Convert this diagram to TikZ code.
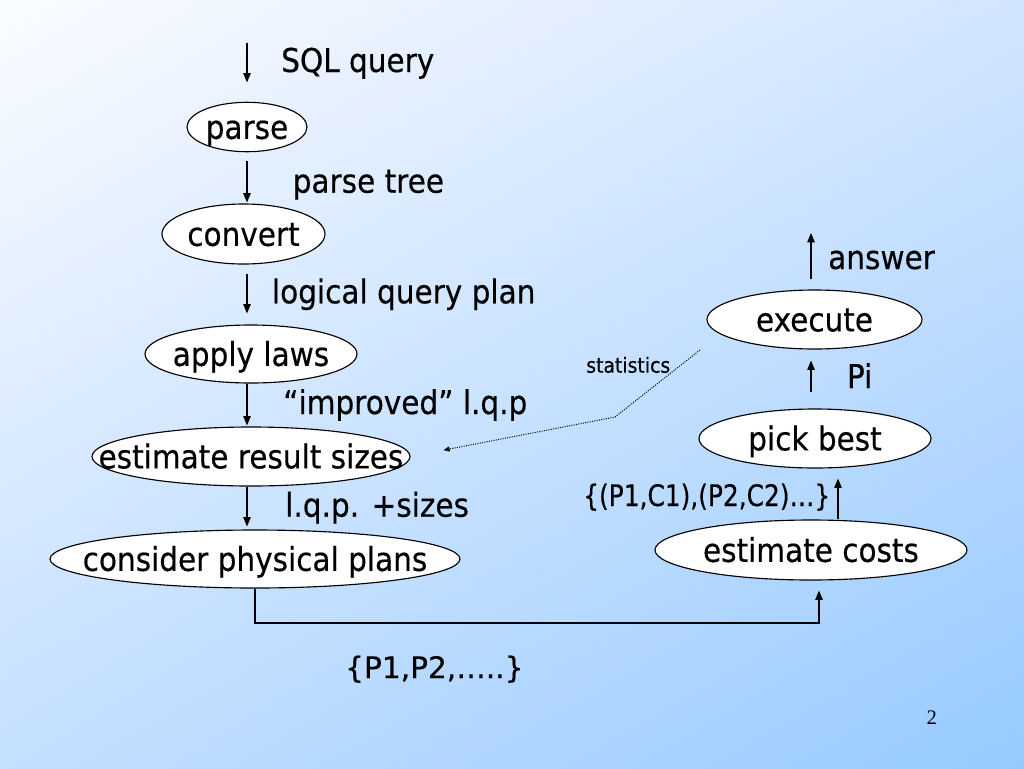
\documentclass[tikz,border=0pt]{standalone}
\usepackage{fontspec}
\setmainfont{DejaVu Sans}[FakeStretch=0.9,FakeBold=0.4]
\newfontfamily\plainsans{DejaVu Sans}[FakeBold=0.4]
\newfontfamily\narrowsans{DejaVu Sans}[FakeStretch=0.84,FakeBold=0.4]
\newfontfamily\serifnum{Liberation Serif}
\usetikzlibrary{shapes.geometric,arrows.meta,shadings}
\definecolor{bgTL}{RGB}{250,252,255}
\definecolor{bgTR}{RGB}{210,229,255}
\definecolor{bgBL}{RGB}{196,223,255}
\definecolor{bgBR}{RGB}{150,202,255}
\newcommand\mainsz{\fontsize{24.6pt}{29pt}\selectfont}
\newcommand\smallsz{\narrowsans\fontsize{22.2pt}{26pt}\selectfont}
\newcommand\statsz{\fontsize{15.7pt}{18pt}\selectfont}
\newcommand\plansz{\plainsans\fontsize{22.2pt}{26pt}\selectfont}
\newcommand\pagesz{\serifnum\fontsize{15.5pt}{18pt}\selectfont}
\begin{document}
\begin{tikzpicture}[x=0.75pt,y=-0.75pt,
  ell/.style 2 args={ellipse, draw=black, line width=0.85pt, fill=white, inner sep=0pt,
    minimum width={#1*0.75pt}, minimum height={#2*0.75pt},
    text height=22pt, text depth=4.2pt, font=\mainsz},
  lbl/.style={anchor=base west, inner sep=0pt, font=\mainsz},
  arr/.style={-{Triangle[length=7pt,width=5.6pt]}, line width=0.8pt},
  stat/.style={densely dotted, line width=0.75pt, -{Triangle[length=4.5pt,width=3.8pt]}, shorten >=25.2pt}]
\useasboundingbox (0,0) rectangle (1024,768);
\shade[upper left=bgTL, upper right=bgTR, lower left=bgBL, lower right=bgBR] (0,0) rectangle (1024,768);

% nodes
\node[ell={120}{48}] (parse) at (247,127) {\makebox[0pt]{parse}};
\node[ell={163}{60}] (convert) at (243.5,234) {\makebox[0pt]{convert}};
\node[ell={212}{58}] (apply) at (251,354) {\makebox[0pt]{apply laws}};
\node[ell={318}{59}] (estimate) at (251,456.5) {\makebox[0pt]{estimate result sizes}};
\node[ell={410}{58}] (consider) at (255,559) {\makebox[0pt]{consider physical plans}};
\node[ell={215}{59}] (execute) at (814.5,319.5) {\makebox[0pt]{execute}};
\node[ell={232}{59}] (pick) at (815,438.5) {\makebox[0pt]{pick best}};
\node[ell={312}{60}] (costs) at (811,550) {\makebox[0pt]{estimate costs}};

% helper coordinates
\coordinate (colL) at (247,0);
\coordinate (colR) at (811,0);
\coordinate (colC) at (838,0);
\coordinate (sqlin) at (247,42.7);
\coordinate (ansout) at (811,233);
\coordinate (jog) at (819,623);
\coordinate (statsrc) at (700,350);
\coordinate (statbend) at (615,417);

% connectors
\draw[arr, shorten >=14.5pt] (sqlin) -- (colL |- parse.north);
\draw[arr, shorten <=6.75pt, shorten >=0.75pt] (colL |- parse.south) -- (colL |- convert.north);
\draw[arr, shorten <=6.75pt, shorten >=8.25pt] (colL |- convert.south) -- (colL |- apply.north);
\draw[arr, shorten >=0.75pt] (colL |- apply.south) -- (colL |- estimate.north);
\draw[arr, shorten >=2.25pt] (colL |- estimate.south) -- (colL |- consider.north);
\draw[arr, shorten <=7.5pt] (colR |- execute.north) -- (ansout);
\draw[arr, shorten <=12pt, shorten >=8.25pt] (colR |- pick.north) -- (colR |- execute.south);
\draw[arr, shorten >=7.5pt] (colC |- costs.north) -- (colC |- pick.south);
\draw[arr, shorten >=7.5pt] (consider.south) |- (jog) -- (jog |- costs.south);
\draw[stat] (statsrc) -- (statbend) -- (estimate.east);

% labels
\node[lbl] (lsql) at (281,72) {SQL query};
\node[lbl] (lptree) at (292.5,192.7) {parse tree};
\node[lbl] (llqp) at (271.7,303.3) {logical query plan};
\node[lbl] (limp) at (283,414) {“improved” l.q.p};
\node[lbl] (lsizes) at (285,516.7) {l.q.p. +sizes};
\node[lbl] (lans) at (828,269) {answer};
\node[lbl] (lpi) at (846.7,388) {Pi};
\node[lbl, font=\smallsz] (lpc) at (583,506) {\{(P1,C1),(P2,C2)…\}};
\node[lbl, font=\statsz] (lstat) at (586,372.7) {statistics};
\node[lbl, font=\plansz] (lplans) at (345,678) {\{P1,P2,…..\}};
\node[anchor=base, inner sep=0pt, font=\pagesz] (pnum) at (931.7,724) {2};
\end{tikzpicture}
\end{document}
